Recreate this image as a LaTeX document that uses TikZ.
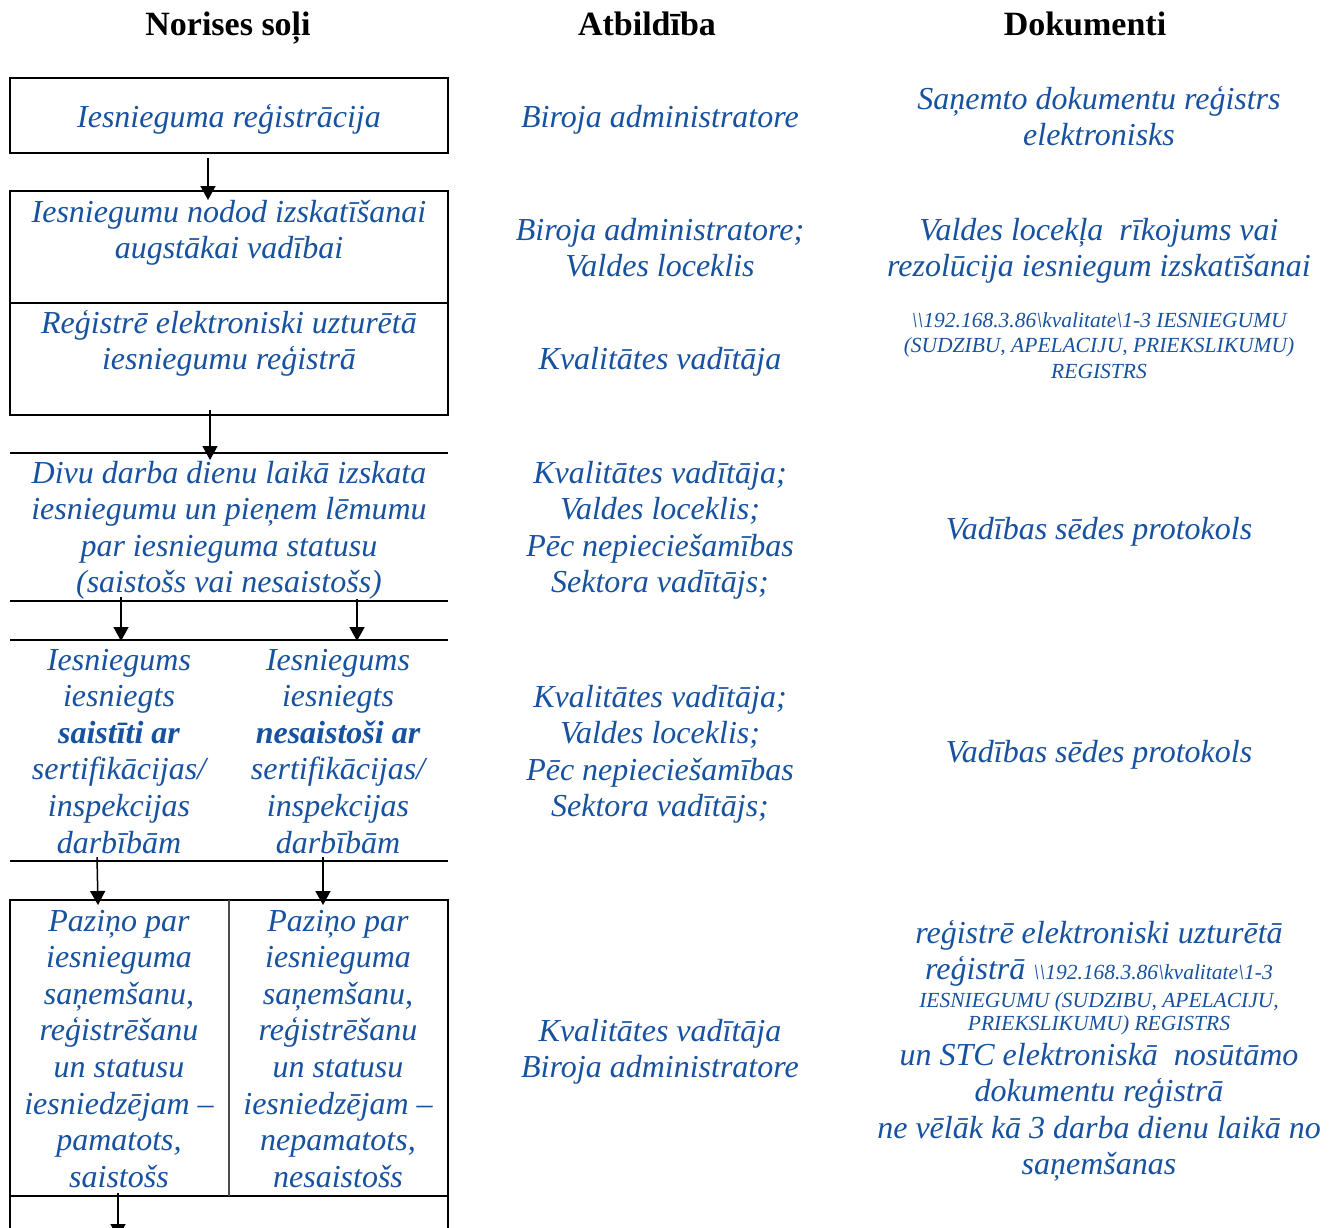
\documentclass[tikz,border=0pt]{standalone}
\usepackage{fontspec}
\setmainfont{Liberation Serif}
\usetikzlibrary{arrows.meta}
\definecolor{docblue}{RGB}{23,82,160}
\begin{document}
\begin{tikzpicture}[x=1pt,y=-1pt,
  head/.style={font=\bfseries\fontsize{34}{38}\selectfont, anchor=base, inner sep=0pt},
  txt/.style={font=\itshape\fontsize{32}{36.6}\selectfont, text=docblue, align=center, anchor=base, inner sep=0pt},
  smalltxt/.style={font=\itshape\fontsize{21.5}{25.5}\selectfont, text=docblue, align=center, anchor=base, inner sep=0pt},
  frame/.style={draw=black, line width=2pt},
  divider/.style={draw=black!70, line width=1.5pt},
  flow/.style={draw=black, line width=1.5pt, -{Triangle[width=15pt,length=14pt]}},
]
\clip (0,0) rectangle (1332,1227);
\fill[white] (0,0) rectangle (1332,1227);

% headings
\node[head] (h1) at (228,35) {Norises soļi};
\node[head] (h2) at (647,35) {Atbildība};
\node[head] (h3) at (1085,35) {Dokumenti};

% frames and lines
\draw[frame] (10,78) rectangle (448,153);
\draw[frame] (10,191) rectangle (448,415);
\draw[frame] (10,303) -- (448,303);
\draw[frame] (10,453) -- (448,453);
\draw[frame] (10,601) -- (448,601);
\draw[frame] (10,640) -- (448,640);
\draw[frame] (10,861) -- (448,861);
\draw[frame] (10,1240) -- (10,900) -- (448,900) -- (448,1240);
\draw[frame] (10,1196) -- (448,1196);
\draw[divider] (229,900) -- (229,1196);

% connector end points
\coordinate (a1s) at (208,158);  \coordinate (a1e) at (208,200);
\coordinate (a2s) at (210,410);  \coordinate (a2e) at (210,460);
\coordinate (a3s) at (121,597);  \coordinate (a3e) at (121,641);
\coordinate (a4s) at (357,599);  \coordinate (a4e) at (357,641);
\coordinate (a5s) at (97,857);   \coordinate (a5e) at (98,905);
\coordinate (a6s) at (323,857);  \coordinate (a6e) at (323,905);
\coordinate (a7s) at (118,1193); \coordinate (a7e) at (118,1238);
\draw[flow] (a1s) -- (a1e);
\draw[flow] (a2s) -- (a2e);
\draw[flow] (a3s) -- (a3e);
\draw[flow] (a4s) -- (a4e);
\draw[flow] (a5s) -- (a5e);
\draw[flow] (a6s) -- (a6e);
\draw[flow] (a7s) -- (a7e);

% left column (anchor = baseline of the last line)
\node[txt] (s1) at (229,127) {Iesnieguma reģistrācija};
\node[txt] (s2) at (229,258.6) {Iesniegumu nodod izskatīšanai\\augstākai vadībai};
\node[txt] (s3) at (229,369.6) {Reģistrē elektroniski uzturētā\\iesniegumu reģistrā};
\node[txt] (s4) at (229,592.8) {Divu darba dienu laikā izskata\\iesniegumu un pieņem lēmumu\\par iesnieguma statusu\\(saistošs vai nesaistošs)};
\node[txt] (s5a) at (119,853) {Iesniegums\\iesniegts\\\textbf{saistīti ar}\\sertifikācijas/\\inspekcijas\\darbībām};
\node[txt] (s5b) at (338,853) {Iesniegums\\iesniegts\\\textbf{nesaistoši ar}\\sertifikācijas/\\inspekcijas\\darbībām};
\node[txt] (s6a) at (119,1187.2) {Paziņo par\\iesnieguma\\saņemšanu,\\reģistrēšanu\\un statusu\\iesniedzējam –\\pamatots,\\saistošs};
\node[txt] (s6b) at (338,1187.2) {Paziņo par\\iesnieguma\\saņemšanu,\\reģistrēšanu\\un statusu\\iesniedzējam –\\nepamatots,\\nesaistošs};

% middle column
\node[txt] (r1) at (660,127) {Biroja administratore};
\node[txt] (r2) at (660,276.6) {Biroja administratore;\\Valdes loceklis};
\node[txt] (r3) at (660,369) {Kvalitātes vadītāja};
\node[txt] (r4) at (660,592.8) {Kvalitātes vadītāja;\\Valdes loceklis;\\Pēc nepieciešamības\\Sektora vadītājs;};
\node[txt] (r5) at (660,816.8) {Kvalitātes vadītāja;\\Valdes loceklis;\\Pēc nepieciešamības\\Sektora vadītājs;};
\node[txt] (r6) at (660,1077.6) {Kvalitātes vadītāja\\Biroja administratore};

% right column
\node[txt] (d1) at (1099,145.6) {Saņemto dokumentu reģistrs\\elektronisks};
\node[txt] (d2) at (1099,276.6) {Valdes locekļa \ rīkojums vai\\rezolūcija iesniegum izskatīšanai};
\node[smalltxt] (d3) at (1099,378) {\textbackslash\textbackslash192.168.3.86\textbackslash kvalitate\textbackslash1-3 IESNIEGUMU\\(SUDZIBU, APELACIJU, PRIEKSLIKUMU)\\REGISTRS};
\node[txt] (d4) at (1099,539) {Vadības sēdes protokols};
\node[txt] (d5) at (1099,762) {Vadības sēdes protokols};
\node[txt] (d6a) at (1099,943) {reģistrē elektroniski uzturētā};
\node[txt] (d6b) at (1099,979) {reģistrā {\fontsize{21.5}{25.5}\selectfont\textbackslash\textbackslash192.168.3.86\textbackslash kvalitate\textbackslash1-3}};
\node[smalltxt] (d6c) at (1099,1030) {IESNIEGUMU (SUDZIBU, APELACIJU,\\[-2.5pt]PRIEKSLIKUMU) REGISTRS};
\node[txt] (d6d) at (1099,1174.8) {un STC elektroniskā \ nosūtāmo\\dokumentu reģistrā\\ne vēlāk kā 3 darba dienu laikā no\\saņemšanas};
\end{tikzpicture}
\end{document}
